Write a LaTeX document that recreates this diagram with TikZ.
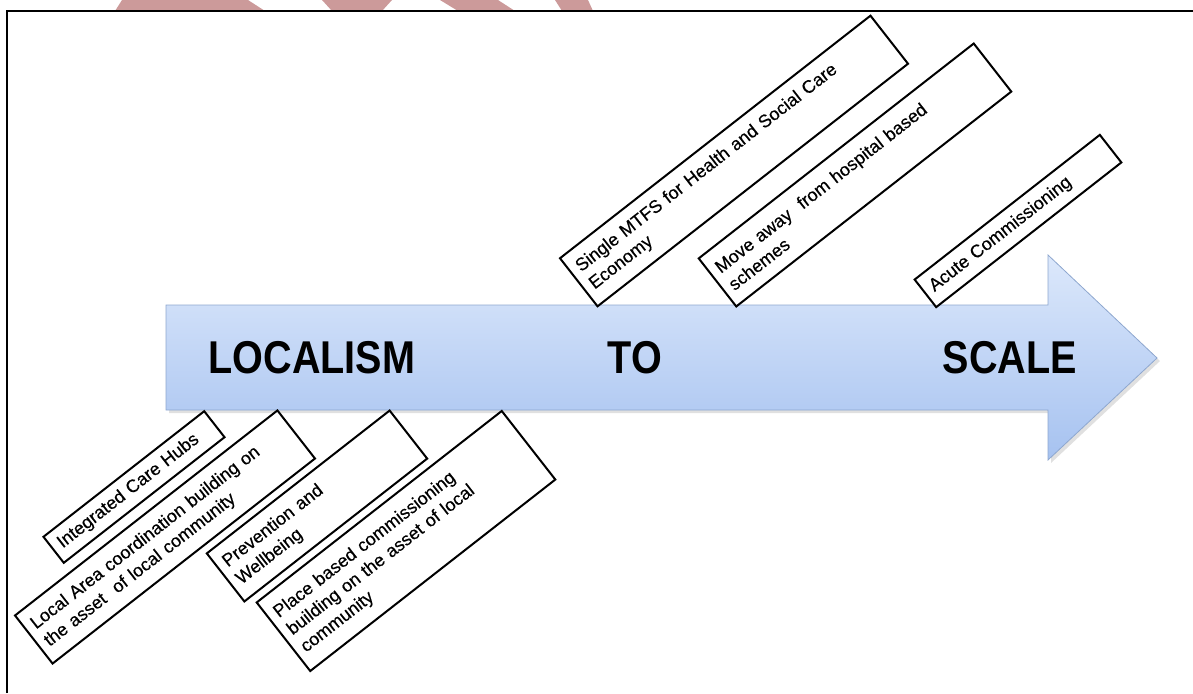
\documentclass[tikz,border=0pt]{standalone}
\usepackage{fontspec}
\setmainfont{Liberation Sans}
\newfontfamily\boxfont[FakeBold=0.4]{Liberation Sans}
\usepackage{graphicx}
\definecolor{wmark}{HTML}{CC9A9A}
\definecolor{arrtop}{HTML}{DCE8FB}
\definecolor{arrbot}{HTML}{A6C2F0}
\definecolor{arredge}{HTML}{8EA7CF}
\begin{document}
\begin{tikzpicture}[x=1pt,y=-1pt,
  mybox/.style={draw, line width=2pt, fill=white, rotate=38, align=left,
    inner xsep=8pt, inner ysep=3pt, font=\boxfont\fontsize{18}{22}\selectfont},
  bigword/.style={font=\fontsize{46}{46}\selectfont\bfseries, inner sep=0pt}]
\useasboundingbox (0,0) rectangle (1193,693);
% watermark fragments
\fill[wmark] (122,0) -- (248,0) -- (265,11) -- (115,11) -- cycle;
\fill[wmark] (322,0) -- (392,0) -- (382,11) -- (332,11) -- cycle;
\fill[wmark] (440,0) -- (498,0) -- (515,11) -- (458,11) -- cycle;
\fill[wmark] (555,0) -- (588,0) -- (593,11) -- (562,11) -- cycle;
% frame
\draw[line width=2.2pt] (7,693) -- (7,11) -- (1193,11);
% arrow shadow
\fill[black, opacity=0.12] (169,308) -- (1051,308) -- (1051,258) -- (1160,361) -- (1051,463) -- (1051,413) -- (169,413) -- cycle;
% arrow
\shade[top color=arrtop, bottom color=arrbot, draw=arredge, line width=0.8pt]
  (166,305) -- (1048,305) -- (1048,255) -- (1157,358) -- (1048,460) -- (1048,410) -- (166,410) -- cycle;
\node[bigword] (loc) at (312,358) {\scalebox{0.86}[1]{LOCALISM}};
\node[bigword] (to) at (635,358) {\scalebox{0.86}[1]{TO}};
\node[bigword] (scale) at (1010,358) {\scalebox{0.86}[1]{SCALE}};
% upper boxes
\node[mybox, minimum width=394pt, minimum height=61pt, text width=378pt] (mtfs) at (734,161)
  {Single MTFS for Health and Social Care\\Economy};
\node[mybox, minimum width=349pt, minimum height=61pt, text width=333pt] (move) at (855,175)
  {Move away\ \ from hospital based\\schemes};
\node[mybox, minimum width=235pt, minimum height=35pt, text width=219pt] (acute) at (1018,221)
  {Acute Commissioning};
% lower boxes
\node[mybox, minimum width=204pt, minimum height=33pt, text width=188pt] (hubs) at (134,487)
  {Integrated Care Hubs};
\node[mybox, minimum width=333pt, minimum height=61pt, text width=317pt] (area) at (165,537)
  {Local Area coordination building on\\the asset\ \ of local community};
\node[mybox, minimum width=232pt, minimum height=61pt, text width=216pt] (prev) at (317,506)
  {Prevention and\\Wellbeing};
\node[mybox, minimum width=311pt, minimum height=87pt, text width=295pt] (place) at (406,541)
  {Place based commissioning\\building on the asset of local\\community};
\end{tikzpicture}
\end{document}
